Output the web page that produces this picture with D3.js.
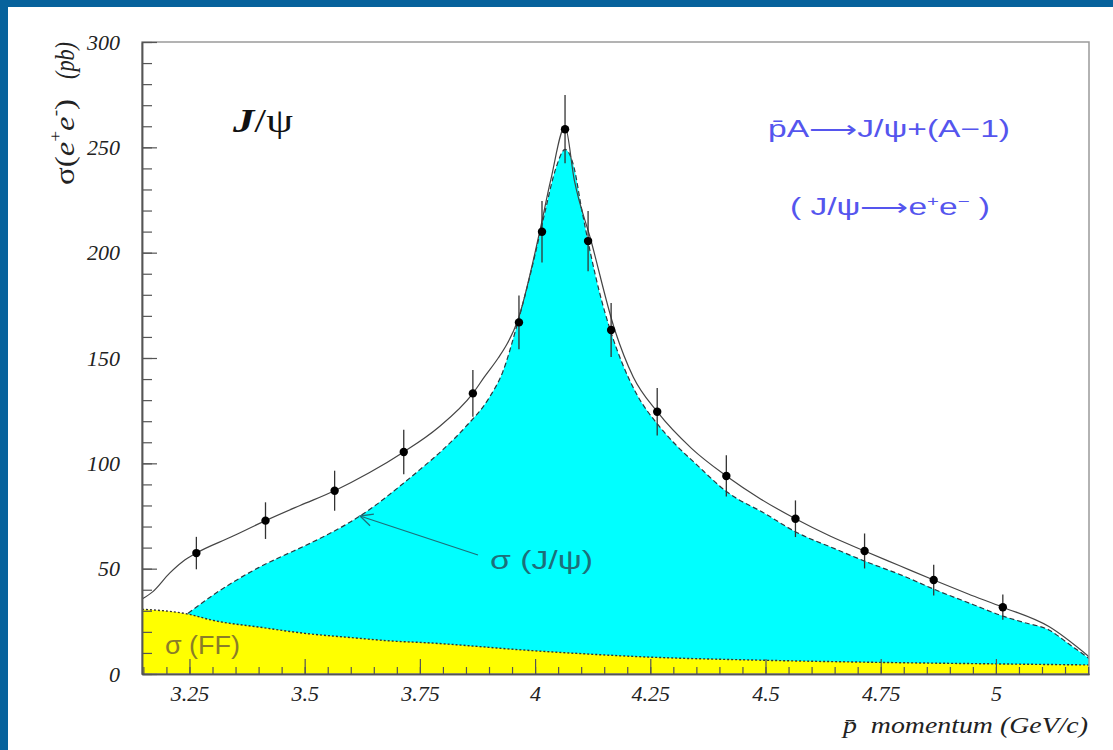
<!DOCTYPE html>
<html>
<head>
<meta charset="utf-8">
<script src="https://cdn.jsdelivr.net/npm/d3@7"></script>
<style>
  body { margin: 0; background: #07629c; overflow: hidden; }
</style>
</head>
<body>
<div id="vis"></div>
<script>
// measured points: antiproton momentum (GeV/c), sigma (pb), error (pb)
const pointP = [3.265, 3.415, 3.565, 3.715, 3.865, 3.965, 4.015, 4.065, 4.115, 4.165, 4.265, 4.415, 4.565, 4.715, 4.865, 5.015];
const pointSigma = [57.4, 72.8, 87.0, 105.4, 133.2, 166.9, 209.9, 258.6, 205.5, 163.3, 124.5, 94.0, 73.7, 58.4, 44.6, 31.7];
const pointErr = [7.7, 8.7, 9.5, 10.6, 11.1, 12.8, 14.6, 16.2, 14.3, 12.8, 11.3, 9.8, 8.7, 8.3, 7.3, 6.0];

// sigma(J/psi) curve (cyan, dashed)
const jpsiP = [3.247, 3.30, 3.35, 3.40, 3.45, 3.50, 3.55, 3.60, 3.65, 3.70, 3.75, 3.80, 3.85, 3.90, 3.93, 3.96, 3.99, 4.02, 4.045, 4.065, 4.085, 4.10, 4.12, 4.14, 4.165, 4.19, 4.22, 4.268, 4.30, 4.35, 4.416, 4.50, 4.565, 4.65, 4.715, 4.80, 4.866, 4.95, 5.015, 5.06, 5.115, 5.16, 5.202];
const jpsiSigma = [28.8, 37.3, 44.3, 50.5, 55.8, 60.8, 66.2, 72.3, 79.5, 88.0, 97.0, 106.5, 117.5, 131.0, 143.5, 165.0, 190.0, 218.0, 240.0, 249.0, 240.0, 222.0, 200.0, 181.0, 162.0, 147.0, 133.0, 118.0, 110.0, 99.5, 86.5, 76.0, 67.5, 59.5, 53.6, 46.5, 40.2, 33.0, 27.5, 24.5, 20.9, 14.0, 7.4];

// total curve (solid)
const totalP = [3.147, 3.17, 3.207, 3.235, 3.265, 3.34, 3.415, 3.49, 3.565, 3.64, 3.715, 3.79, 3.865, 3.89, 3.92, 3.94, 3.961, 4.01, 4.034, 4.065, 4.085, 4.121, 4.173, 4.213, 4.265, 4.34, 4.415, 4.49, 4.565, 4.64, 4.715, 4.79, 4.865, 4.94, 5.015, 5.115, 5.202];
const totalSigma = [35.6, 39.0, 47.9, 53.3, 57.4, 65.0, 72.8, 80.0, 87.0, 95.5, 105.4, 117.0, 133.2, 141.0, 150.0, 157.0, 167.0, 210.0, 234.5, 259.8, 234.5, 206.0, 163.3, 141.0, 124.5, 107.0, 94.0, 83.0, 73.7, 65.5, 58.4, 51.5, 44.6, 38.0, 31.7, 22.5, 8.2];

// sigma(FF) background (yellow, dotted)
const ffP = [3.147, 3.25, 3.30, 3.40, 3.50, 3.60, 3.70, 3.75, 4.00, 4.25, 4.50, 4.75, 5.00, 5.202];
const ffSigma = [30.7, 28.3, 25.5, 22.3, 19.3, 17.3, 15.5, 15.0, 11.0, 8.0, 6.5, 5.5, 4.8, 4.3];

const xMajor = [3.25, 3.5, 3.75, 4, 4.25, 4.5, 4.75, 5];
const yMajor = [0, 50, 100, 150, 200, 250, 300];

const width = 1113, height = 750;
const margin = {top: 42, right: 24, bottom: 76, left: 142};

const svg = d3.select("#vis")
  .append("svg")
    .attr("width", width)
    .attr("height", height);

svg.append("rect")
  .attr("x", 8).attr("y", 7)
  .attr("width", width - 8).attr("height", height - 7)
  .attr("fill", "white");

const x = d3.scaleLinear()
  .domain([3.147, 5.202])
  .range([margin.left, width - margin.right]);

const y = d3.scaleLinear()
  .domain([0, 300])
  .range([height - margin.bottom, margin.top]);

svg.append("clipPath").attr("id", "plot")
  .append("rect")
    .attr("x", x.range()[0]).attr("y", y.range()[1])
    .attr("width", x.range()[1] - x.range()[0])
    .attr("height", y.range()[0] - y.range()[1]);

const zip = (ps, ss) => ps.map((p, i) => ({p: p, s: ss[i]}));
const jpsi = zip(jpsiP, jpsiSigma);
const total = zip(totalP, totalSigma);
const ff = zip(ffP, ffSigma);
const points = pointP.map((p, i) => ({p: p, s: pointSigma[i], e: pointErr[i]}));

const area = d3.area()
  .x(d => x(d.p)).y0(y(0)).y1(d => y(d.s))
  .curve(d3.curveMonotoneX);
const line = d3.line()
  .x(d => x(d.p)).y(d => y(d.s))
  .curve(d3.curveMonotoneX);

const g = svg.append("g").attr("clip-path", "url(#plot)");

g.append("path").datum(jpsi)
  .attr("d", area).attr("fill", "#00ffff");
g.append("path").datum(ff)
  .attr("d", area).attr("fill", "#ffff00");

g.append("path").datum(jpsi)
  .attr("d", line).attr("fill", "none")
  .attr("stroke", "#2a3a40").attr("stroke-width", 1.2)
  .attr("stroke-dasharray", "5,3");
g.append("path").datum(ff)
  .attr("d", line).attr("fill", "none")
  .attr("stroke", "#333").attr("stroke-width", 1.4)
  .attr("stroke-dasharray", "2,2");
g.append("path").datum(total)
  .attr("d", line).attr("fill", "none")
  .attr("stroke", "#444").attr("stroke-width", 1.2);

// error bars + markers
g.append("g")
  .selectAll("line")
  .data(points)
  .join("line")
    .attr("x1", d => x(d.p)).attr("x2", d => x(d.p))
    .attr("y1", d => y(d.s - d.e)).attr("y2", d => y(d.s + d.e))
    .attr("stroke", "#333").attr("stroke-width", 1.3);
g.append("g")
  .selectAll("circle")
  .data(points)
  .join("circle")
    .attr("cx", d => x(d.p)).attr("cy", d => y(d.s))
    .attr("r", 4.2).attr("fill", "black");

// frame
svg.append("rect")
  .attr("x", x.range()[0]).attr("y", y.range()[1])
  .attr("width", x.range()[1] - x.range()[0])
  .attr("height", y.range()[0] - y.range()[1])
  .attr("fill", "none").attr("stroke", "#9a9a9a").attr("stroke-width", 1.5);

// axes
const styleAxis = sel => {
  sel.selectAll("line").attr("stroke", "#555").attr("stroke-width", 1.2);
  sel.selectAll("path.domain").attr("stroke", "#555").attr("stroke-width", 1.5);
  sel.selectAll("text")
    .attr("font-family", "Liberation Serif, serif")
    .attr("font-style", "italic")
    .attr("font-size", "22px")
    .attr("fill", "#222");
};

svg.append("g")
  .attr("transform", `translate(0,${y(0)})`)
  .call(d3.axisBottom(x).tickValues(d3.range(63, 105).map(i => i / 20)).tickSize(-7).tickSizeOuter(0).tickFormat(""))
  .call(styleAxis);
svg.append("g")
  .attr("transform", `translate(0,${y(0)})`)
  .call(d3.axisBottom(x).tickValues(xMajor).tickSize(-15).tickSizeOuter(0).tickPadding(11).tickFormat(d3.format("~g")))
  .call(styleAxis);

svg.append("g")
  .attr("transform", `translate(${x.range()[0]},0)`)
  .call(d3.axisLeft(y).tickValues(d3.range(0, 301, 10)).tickSize(-10).tickSizeOuter(0).tickFormat(""))
  .call(styleAxis);
svg.append("g")
  .attr("transform", `translate(${x.range()[0]},0)`)
  .call(d3.axisLeft(y).tickValues(yMajor).tickSize(-15).tickSizeOuter(0).tickPadding(22).tickFormat(d3.format("d")))
  .call(styleAxis);

// axis titles
const xt = svg.append("text")
  .attr("x", 843).attr("y", 733)
  .attr("textLength", 245).attr("lengthAdjust", "spacingAndGlyphs")
  .attr("font-family", "Liberation Serif, serif")
  .attr("font-style", "italic")
  .attr("font-size", "24px")
  .attr("fill", "#222");
xt.append("tspan").text("p\u0304");
xt.append("tspan").attr("dx", 12).text("momentum (GeV/c)");

const yt = svg.append("text")
  .attr("transform", "translate(74,185) scale(1.15,1) rotate(-90)")
  .attr("textLength", 86).attr("lengthAdjust", "spacingAndGlyphs")
  .attr("font-family", "Liberation Serif, serif")
  .attr("font-size", "24px")
  .attr("fill", "#222");
yt.append("tspan").text("\u03c3(");
yt.append("tspan").attr("font-style", "italic").text("e");
yt.append("tspan").attr("font-size", "14px").attr("dy", -11).text("+");
yt.append("tspan").attr("font-style", "italic").attr("dy", 11).text("e");
yt.append("tspan").attr("font-size", "14px").attr("dy", -11).text("-");
yt.append("tspan").attr("dy", 11).text(")");

svg.append("text")
  .attr("transform", "translate(74,79) scale(1.15,1) rotate(-90)")
  .attr("textLength", 37).attr("lengthAdjust", "spacingAndGlyphs")
  .attr("font-family", "Liberation Serif, serif")
  .attr("font-style", "italic")
  .attr("font-size", "24px")
  .attr("fill", "#222")
  .text("(pb)");

// labels
const jt = svg.append("text")
  .attr("x", 233).attr("y", 132)
  .attr("textLength", 60).attr("lengthAdjust", "spacingAndGlyphs")
  .attr("font-family", "Liberation Serif, serif")
  .attr("font-size", "34px")
  .attr("fill", "#111");
jt.append("tspan").attr("font-weight", "bold").attr("font-style", "italic").text("J");
jt.append("tspan").text("/\u03c8");

svg.append("text")
  .attr("x", 768).attr("y", 137)
  .attr("textLength", 242).attr("lengthAdjust", "spacingAndGlyphs")
  .attr("font-family", "Liberation Sans, sans-serif")
  .attr("font-size", "23px")
  .attr("fill", "#5555ee")
  .text("p\u0304A\u27f6J/\u03c8+(A\u22121)");

const rt = svg.append("text")
  .attr("x", 790).attr("y", 215)
  .attr("textLength", 200).attr("lengthAdjust", "spacingAndGlyphs")
  .attr("font-family", "Liberation Sans, sans-serif")
  .attr("font-size", "23px")
  .attr("fill", "#5555ee");
rt.append("tspan").text("( J/\u03c8\u27f6e");
rt.append("tspan").attr("font-size", "14px").attr("dy", -9).text("+");
rt.append("tspan").attr("dy", 9).text("e");
rt.append("tspan").attr("font-size", "14px").attr("dy", -9).text("\u2212");
rt.append("tspan").attr("dy", 9).text(" )");

// sigma(J/psi) arrow
const teal = "#1d6f7a";
const arrowFrom = [478, 555], arrowTo = [360, 516];
svg.append("line")
  .attr("x1", arrowFrom[0]).attr("y1", arrowFrom[1])
  .attr("x2", arrowTo[0]).attr("y2", arrowTo[1])
  .attr("stroke", teal).attr("stroke-width", 1.3);
const ang = Math.atan2(arrowFrom[1] - arrowTo[1], arrowFrom[0] - arrowTo[0]);
svg.append("path")
  .attr("d", d3.line()([
    [arrowTo[0] + 14 * Math.cos(ang - 0.45), arrowTo[1] + 14 * Math.sin(ang - 0.45)],
    arrowTo,
    [arrowTo[0] + 14 * Math.cos(ang + 0.45), arrowTo[1] + 14 * Math.sin(ang + 0.45)]
  ]))
  .attr("fill", "none").attr("stroke", teal).attr("stroke-width", 1.3);

svg.append("text")
  .attr("x", 490).attr("y", 569)
  .attr("textLength", 103).attr("lengthAdjust", "spacingAndGlyphs")
  .attr("font-family", "Liberation Sans, sans-serif")
  .attr("font-size", "25px")
  .attr("fill", teal)
  .text("\u03c3 (J/\u03c8)");

svg.append("text")
  .attr("x", 165).attr("y", 654)
  .attr("textLength", 75).attr("lengthAdjust", "spacingAndGlyphs")
  .attr("font-family", "Liberation Sans, sans-serif")
  .attr("font-size", "25px")
  .attr("fill", "#8a7d28")
  .text("\u03c3 (FF)");
</script>
</body>
</html>
